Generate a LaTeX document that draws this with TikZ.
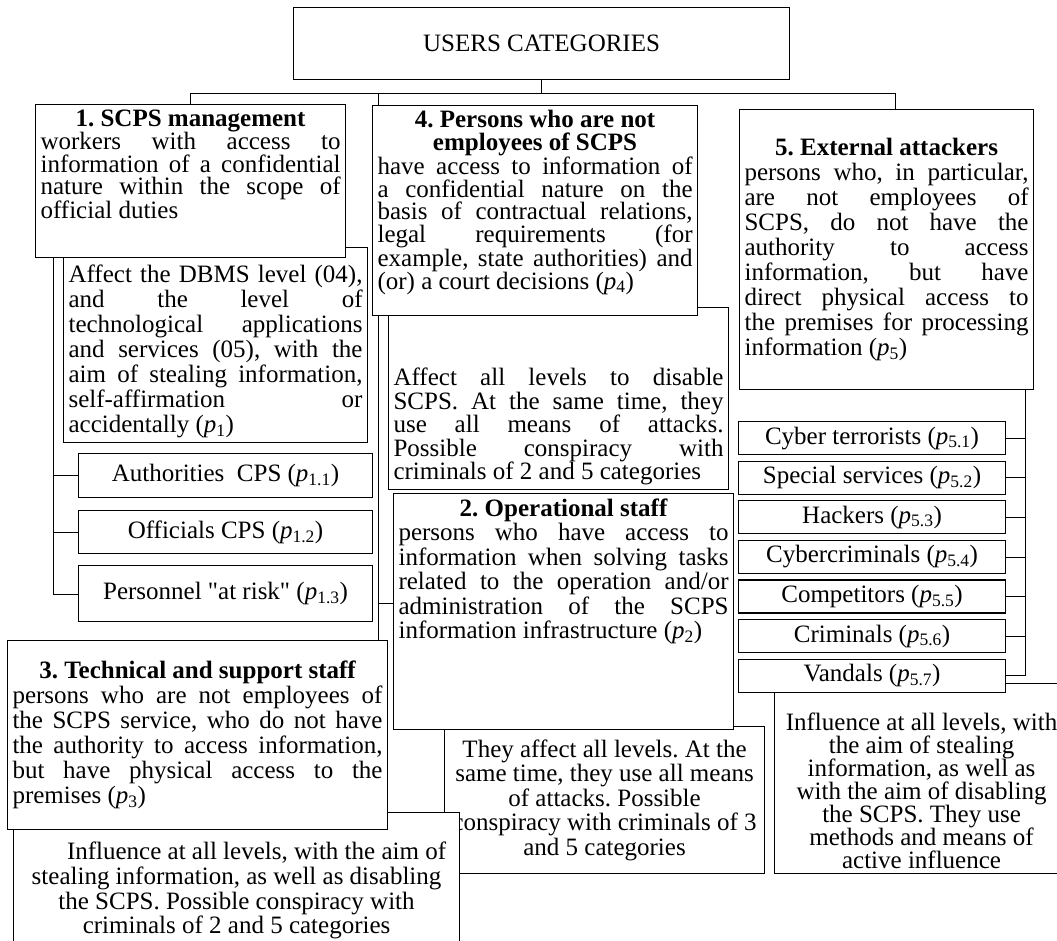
\documentclass[tikz,border=0pt]{standalone}
\usepackage{fontspec}
\setmainfont{Liberation Serif}
\usetikzlibrary{positioning,backgrounds}

\newcommand{\pcat}[1]{\textit{p}\textsubscript{#1}}
\newcommand{\boxbody}[4]{\parbox[c][\dimexpr#2pt-10pt\relax][#3]{\dimexpr#1pt-10pt\relax}{#4}}

\begin{document}
\frenchspacing
\begin{tikzpicture}[
        x=1pt, y=1pt,
        line width=1.1pt,
        every node/.style={font=\fontsize{25}{24}\selectfont},
        lh/.style={font=\fontsize{25}{#1}\selectfont},
        catbox/.style={draw, fill=white, anchor=north west, inner xsep=5pt, inner ysep=5pt},
        rolebox/.style={draw, fill=white, anchor=north west, minimum width=294pt, inner sep=0pt},
        kindbox/.style={draw, fill=white, anchor=north west, minimum width=267pt, minimum height=33pt, inner sep=0pt}
    ]
        \useasboundingbox (0,0) rectangle (1057,-941);

        % Root
        \node[catbox] (top) at (293,-7) {\boxbody{496}{72}{c}{\centering USERS CATEGORIES}};

        % Category 1
        \node[catbox, lh=25] (mgmtfx) at (63,-247) {\boxbody{304}{190}{b}{Affect the DBMS level (04),\linebreak and the level of\linebreak technological applications\linebreak and services (05), with the\linebreak aim of stealing information,\linebreak self-affirmation or\linebreak accidentally (\pcat{1})}};
        \node[catbox, lh=22.5] (mgmt) at (35,-104) {\boxbody{310}{153}{t}{{\centering\bfseries 1. SCPS management\par}workers with access to\linebreak information of a confidential\linebreak nature within the scope of\linebreak official duties}};

        \node[rolebox, minimum height=44pt] (auth) at (78,-453) {Authorities~~CPS (\pcat{1.1})};
        \node[rolebox, minimum height=43pt, below=12pt of auth] (off) {Officials CPS (\pcat{1.2})};
        \node[rolebox, minimum height=56pt, below=11pt of off] (risk) {Personnel \textquotedbl at risk\textquotedbl{} (\pcat{1.3})};

        % Category 4
        \node[catbox, lh=23.5] (nonempfx) at (388,-307) {\boxbody{340}{177}{b}{Affect all levels to disable\linebreak SCPS. At the same time, they\linebreak use all means of attacks.\linebreak Possible conspiracy with\linebreak criminals of 2 and 5 categories}};
        \node[catbox, lh=22.7] (nonemp) at (372,-105) {\boxbody{325}{210}{t}{{\centering\bfseries 4. Persons who are not\\ employees of SCPS\par}have access to information of\linebreak a confidential nature on the\linebreak basis of contractual relations,\linebreak legal requirements (for\linebreak example, state authorities) and\linebreak (or) a court decisions (\pcat{4})}};

        % Category 2
        \node[catbox, lh=24.5] (opstafffx) at (444,-726) {\boxbody{320}{147}{c}{\centering They affect all levels. At the\\ same time, they use all means\\ of attacks. Possible\\ conspiracy with criminals of 3\\ and 5 categories}};
        \node[catbox, lh=24.5] (opstaff) at (393,-493) {\boxbody{340}{236}{t}{{\centering\bfseries 2. Operational staff\par}persons who have access to\linebreak information when solving tasks\linebreak related to the operation and/or\linebreak administration of the SCPS\linebreak information infrastructure (\pcat{2})}};

        % Category 3
        \node[catbox, lh=24.7] (techstafffx) at (13,-812) {\boxbody{446}{156}{c}{\centering\hspace*{40pt}Influence at all levels, with the aim of\\ stealing information, as well as disabling\\ the SCPS. Possible conspiracy with\\ criminals of 2 and 5 categories}};
        \node[catbox, lh=25] (techstaff) at (7,-640) {\boxbody{380}{189}{c}{{\centering\bfseries 3. Technical and support staff\par}persons who are not employees of\linebreak the SCPS service, who do not have\linebreak the authority to access information,\linebreak but have physical access to the\linebreak premises (\pcat{3})}};

        % Category 5
        \node[catbox, lh=23] (externalfx) at (774,-683) {\boxbody{294}{190}{b}{\centering Influence at all levels, with\\ the aim of stealing\\ information, as well as\\ with the aim of disabling\\ the SCPS. They use\\ methods and means of\\ active influence}};
        \node[catbox, lh=25] (external) at (739,-109) {\boxbody{294}{280}{c}{{\centering\bfseries 5. External attackers\par}persons who, in particular,\linebreak are not employees of\linebreak SCPS, do not have the\linebreak authority to access\linebreak information, but have\linebreak direct physical access to\linebreak the premises for processing\linebreak information (\pcat{5})}};

        \node[kindbox] (p51) at (738,-421) {Cyber terrorists (\pcat{5.1})};
        \node[kindbox, below=5.5pt of p51] (p52) {Special services (\pcat{5.2})};
        \node[kindbox, below=5.5pt of p52] (p53) {Hackers (\pcat{5.3})};
        \node[kindbox, below=5.5pt of p53] (p54) {Cybercriminals (\pcat{5.4})};
        \node[kindbox, below=5.5pt of p54] (p55) {Competitors (\pcat{5.5})};
        \node[kindbox, below=5.5pt of p55] (p56) {Criminals (\pcat{5.6})};
        \node[kindbox, below=5.5pt of p56] (p57) {Vandals (\pcat{5.7})};

        % Connectors behind the boxes
        \begin{scope}[on background layer]
            \coordinate (bar) at ([yshift=-13pt]top.south);
            \draw (top.south) -- (bar);
            \draw (mgmt.north) |- (bar) -| ([xshift=9pt]external.north);

            \coordinate (mspine) at ([xshift=6pt]nonemp.north west);
            \draw (bar -| mspine) -- (mspine |- techstaff.north);
            \draw ([yshift=8pt]opstaff.west) -- ([yshift=8pt]opstaff.west -| mspine);

            \coordinate (lspine) at ([xshift=18pt]mgmt.south west);
            \draw (lspine) |- (risk.west);
            \foreach \role in {auth, off} {
                \draw (\role.west) -- (\role.west -| lspine);
            }

            \coordinate (rspine) at ([xshift=-9pt]external.south east);
            \draw (rspine) |- (p57.east);
            \foreach \kind in {p51, p52, p53, p54, p55, p56} {
                \draw (\kind.east) -- (\kind.east -| rspine);
            }
        \end{scope}
    \end{tikzpicture}
\end{document}
